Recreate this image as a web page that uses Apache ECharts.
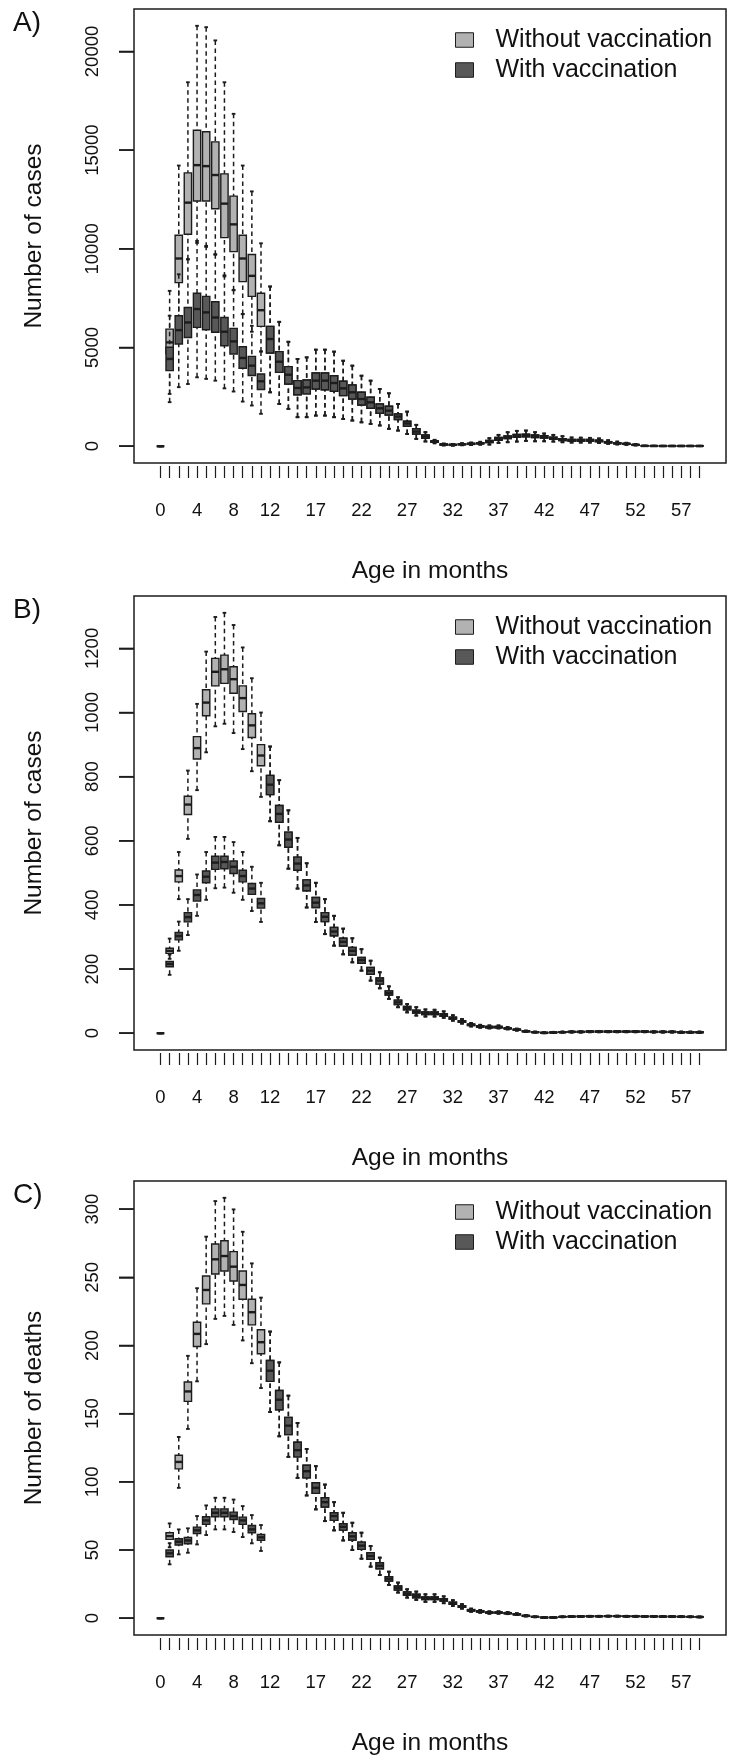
<!DOCTYPE html>
<html>
<head>
<meta charset="utf-8">
<script src="https://cdn.jsdelivr.net/npm/echarts@6/dist/echarts.min.js"></script>
<style>
html,body{margin:0;padding:0;background:#ffffff;}
#chart{width:736px;height:1762px;}
</style>
</head>
<body>
<div id="chart"></div>
<script>
// ---------- DATA (each entry: [min, q1, median, q3, max]) ----------
const ages = [0,1,2,3,4,5,6,7,8,9,10,11,12,13,14,15,16,17,18,19,20,21,22,23,24,25,26,27,28,29,
  30,31,32,33,34,35,36,37,38,39,40,41,42,43,44,45,46,47,48,49,50,51,52,53,54,55,56,57,58,59];
const xTickLabels = [0,4,8,12,17,22,27,32,37,42,47,52,57];
const yTicksA = [0,5000,10000,15000,20000];
const yTicksB = [0,200,400,600,800,1000,1200];
const yTicksC = [0,50,100,150,200,250,300];
const seriesNames = ['Without vaccination','With vaccination'];

const casesA_without = [
[0,0,0,0,0],[2650,4700,5260,5930,7870],[5600,8290,9510,10690,14220],[9470,10740,12340,13850,18440],
[10300,12420,14240,16010,21300],[10100,12420,14190,15930,21230],[9700,12030,13740,15420,20560],
[8600,10570,12290,13800,18440],[7900,9860,11240,12670,16840],[6700,8340,9510,10690,14220],
[5800,7590,8630,9710,12910],[4800,6070,6890,7750,10280],
[2730,4720,5430,6070,8090],[2140,3740,4280,4790,6300],[1890,3150,3620,4030,5290],[1470,2610,2950,3320,4420],
[1470,2650,2980,3350,4500],[1550,2900,3320,3710,4890],[1550,2860,3320,3710,4890],[1470,2780,3200,3570,4790],
[1380,2560,2930,3290,4330],[1300,2390,2730,3100,4080],[1210,2090,2390,2730,3570],[1130,1920,2220,2480,3320],
[1050,1670,1920,2140,2900],[880,1580,1800,2020,2680],[790,1350,1500,1630,2140],[620,1010,1150,1260,1750],
[370,620,740,880,1080],[240,400,490,570,710],[150,200,235,270,320],[40,60,84,110,130],
[30,50,67,85,110],[50,80,100,120,150],[60,95,117,140,180],[80,125,151,175,220],
[84,185,235,286,404],[168,303,370,438,572],[202,387,455,522,707],[235,455,522,589,775],
[269,470,539,605,791],[250,440,505,570,707],[250,410,471,530,640],[235,350,404,460,572],
[202,290,337,380,505],[185,260,303,345,438],[185,260,303,345,430],[185,260,303,345,420],
[160,230,269,300,390],[120,170,202,230,300],[90,125,151,175,230],[70,100,117,135,170],
[40,55,67,80,100],[8,12,15,18,24],[6,9,12,15,20],[5,8,10,12,16],
[5,8,10,12,16],[5,8,10,12,16],[5,8,10,12,16],[5,8,10,12,16]
];
const casesA_with = [
[0,0,0,0,0],[2230,3830,4420,5010,6610],[2990,5180,5880,6610,8710],[3150,5510,6270,7030,9470],
[3490,6020,6950,7750,10400],[3410,5900,6780,7590,10150],[3320,5770,6520,7320,9730],
[2930,5090,5800,6520,8660],[2770,4670,5310,5970,7920],[2260,3950,4470,5040,6690],
[2060,3580,4080,4550,6100],[1640,2870,3290,3660,4800],
[2730,4720,5430,6070,8090],[2140,3740,4280,4790,6300],[1890,3150,3620,4030,5290],[1470,2610,2950,3320,4420],
[1470,2650,2980,3350,4500],[1550,2900,3320,3710,4890],[1550,2860,3320,3710,4890],[1470,2780,3200,3570,4790],
[1380,2560,2930,3290,4330],[1300,2390,2730,3100,4080],[1210,2090,2390,2730,3570],[1130,1920,2220,2480,3320],
[1050,1670,1920,2140,2900],[880,1580,1800,2020,2680],[790,1350,1500,1630,2140],[620,1010,1150,1260,1750],
[370,620,740,880,1080],[240,400,490,570,710],[150,200,235,270,320],[40,60,84,110,130],
[30,50,67,85,110],[50,80,100,120,150],[60,95,117,140,180],[80,125,151,175,220],
[84,185,235,286,404],[168,303,370,438,572],[202,387,455,522,707],[235,455,522,589,775],
[269,470,539,605,791],[250,440,505,570,707],[250,410,471,530,640],[235,350,404,460,572],
[202,290,337,380,505],[185,260,303,345,438],[185,260,303,345,430],[185,260,303,345,420],
[160,230,269,300,390],[120,170,202,230,300],[90,125,151,175,230],[70,100,117,135,170],
[40,55,67,80,100],[8,12,15,18,24],[6,9,12,15,20],[5,8,10,12,16],
[5,8,10,12,16],[5,8,10,12,16],[5,8,10,12,16],[5,8,10,12,16]
];

const casesB_without = [
[0,0,0,0,0],[232,249,257,265,295],[418,472,490,509,565],[606,682,713,739,819],
[758,855,889,925,1027],[876,990,1031,1071,1190],[957,1083,1127,1169,1298],[965,1091,1135,1179,1311],
[936,1060,1104,1143,1273],[886,1003,1045,1083,1203],[817,922,960,996,1107],[737,834,866,900,1000],
[661,744,775,804,894],[586,658,684,710,789],[513,580,604,627,695],[451,508,529,549,609],
[392,444,461,478,530],[347,392,407,423,469],[309,348,363,376,418],[273,304,317,330,366],
[246,272,285,296,326],[221,244,257,267,296],[195,218,228,236,262],[164,184,195,205,226],
[140,153,164,172,190],[107,119,125,132,146],[81,89,96,103,112],[65,73,78,83,91],
[55,63,67,72,81],[52,58,62,66,74],[52,58,62,66,73],[48,53,57,61,68],
[39,44,47,50,56],[30,34,36,39,44],[21,24,26,28,32],[17,19,21,23,26],
[15,17,19,21,24],[15,17,19,21,24],[12,14,15,16,19],[8,10,11,12,14],
[4,5,6,7,8],[2,3,3,4,5],[0,1,1,2,3],[1,2,2,3,4],
[2,3,3,4,5],[2,3,4,5,6],[2,3,4,5,6],[3,4,5,6,7],
[3,4,5,6,7],[3,4,5,6,7],[3,4,5,6,7],[3,4,5,6,7],
[3,4,5,6,7],[3,4,5,6,7],[2,3,4,5,6],[2,3,4,5,6],
[2,3,4,5,6],[1,2,3,4,5],[1,2,3,4,5],[1,2,3,4,5]
];
const casesB_with = [
[0,0,0,0,0],[182,207,216,224,245],[257,291,303,314,348],[306,347,362,376,418],
[366,412,431,447,495],[416,469,488,506,565],[452,511,532,552,612],[454,513,534,552,612],
[438,498,519,537,596],[416,472,490,508,565],[381,433,451,467,519],[347,390,405,420,469],
[661,744,775,804,894],[586,658,684,710,789],[513,580,604,627,695],[451,508,529,549,609],
[392,444,461,478,530],[347,392,407,423,469],[309,348,363,376,418],[273,304,317,330,366],
[246,272,285,296,326],[221,244,257,267,296],[195,218,228,236,262],[164,184,195,205,226],
[140,153,164,172,190],[107,119,125,132,146],[81,89,96,103,112],[65,73,78,83,91],
[55,63,67,72,81],[52,58,62,66,74],[52,58,62,66,73],[48,53,57,61,68],
[39,44,47,50,56],[30,34,36,39,44],[21,24,26,28,32],[17,19,21,23,26],
[15,17,19,21,24],[15,17,19,21,24],[12,14,15,16,19],[8,10,11,12,14],
[4,5,6,7,8],[2,3,3,4,5],[0,1,1,2,3],[1,2,2,3,4],
[2,3,3,4,5],[2,3,4,5,6],[2,3,4,5,6],[3,4,5,6,7],
[3,4,5,6,7],[3,4,5,6,7],[3,4,5,6,7],[3,4,5,6,7],
[3,4,5,6,7],[3,4,5,6,7],[2,3,4,5,6],[2,3,4,5,6],
[2,3,4,5,6],[1,2,3,4,5],[1,2,3,4,5],[1,2,3,4,5]
];

const deathsC_without = [
[0,0,0,0,0],[52,57.8,60.2,62.7,69.5],[95.6,109.5,114.6,119.5,132.9],[138.8,159,166.3,173.2,192.4],
[173.7,199.3,208.5,217,242],[201,230.5,240.7,251,279.8],[219.5,252.4,263.2,274.4,305.9],[221.7,254.6,265.6,276.8,308.3],
[215.1,247.3,257.8,268.8,299.8],[203.7,233.9,244.4,254.6,283.4],[187,215.1,224.4,233.9,260.2],[168.8,193.9,202.4,211.5,235.1],
[151.2,173.7,181.5,189,210.2],[133.4,152.9,160.2,167,187.6],[118.3,134.6,141.2,147.3,163.2],[102.9,118.3,123.2,129,143.2],
[90,102.9,107.8,112.2,124.1],[79.8,91.5,95.6,99.3,111.5],[71.2,81.5,85.1,88.3,98],[64.4,71.7,74.9,77.3,85.1],
[57,64.6,67,69.3,77.3],[50,57.3,60,62.7,70],[43.6,50.5,53.2,55.8,62.7],[37.8,43.2,45.6,48,52.9],
[31.7,36.3,38.5,40.7,44.4],[24.4,27.3,29,30.5,34.1],[18.8,20.7,22.2,23.6,26.1],[15.1,16.8,18,19.3,21.2],
[13.4,15,16.3,17.5,19.5],[12,13.6,14.6,15.6,17.5],[12,13.6,14.6,15.6,17.5],[11,12.5,13.4,14.3,16],
[9,10.2,11,11.8,13.2],[7,7.9,8.5,9.1,10.3],[4.7,5.3,5.8,6.3,7],[4,4.5,4.9,5.3,6],
[3.3,3.8,4.1,4.4,5],[3.3,3.8,4.1,4.4,5],[3,3.4,3.7,4,4.5],[2.3,2.6,2.9,3.2,3.6],
[1.3,1.5,1.7,1.9,2.2],[0.7,0.9,1,1.1,1.3],[0.3,0.4,0.5,0.6,0.8],[0.3,0.4,0.5,0.6,0.8],
[0.7,0.9,1,1.1,1.3],[0.9,1.1,1.2,1.3,1.5],[1,1.2,1.3,1.4,1.6],[1.1,1.3,1.4,1.5,1.7],
[1.1,1.3,1.4,1.5,1.7],[1.2,1.4,1.5,1.6,1.8],[1.2,1.4,1.5,1.6,1.8],[1.1,1.3,1.4,1.5,1.7],
[1.1,1.3,1.4,1.5,1.7],[1,1.2,1.3,1.4,1.6],[1,1.2,1.3,1.4,1.6],[0.9,1.1,1.2,1.3,1.5],
[0.9,1.1,1.2,1.3,1.5],[0.8,1,1.1,1.2,1.4],[0.7,0.9,1,1.1,1.3],[0.6,0.8,0.9,1,1.2]
];
const deathsC_with = [
[0,0,0,0,0],[39.5,45.1,47.6,50,55],[46.8,53.7,56.1,58.3,65.1],[48,54.6,57,59.3,65.9],
[54.1,62,64.4,66.8,74.9],[61,68.8,71.7,74.4,82.7],[65.1,74.4,77.3,80.2,88.3],[65.1,74.4,77.3,80.2,88.3],
[63.2,72.4,74.9,77.8,87],[59.5,68.8,71.7,74.1,82.2],[54.9,62.7,65.1,68,75.6],[49.3,57.1,59.3,61.5,68.3],
[151.2,173.7,181.5,189,210.2],[133.4,152.9,160.2,167,187.6],[118.3,134.6,141.2,147.3,163.2],[102.9,118.3,123.2,129,143.2],
[90,102.9,107.8,112.2,124.1],[79.8,91.5,95.6,99.3,111.5],[71.2,81.5,85.1,88.3,98],[64.4,71.7,74.9,77.3,85.1],
[57,64.6,67,69.3,77.3],[50,57.3,60,62.7,70],[43.6,50.5,53.2,55.8,62.7],[37.8,43.2,45.6,48,52.9],
[31.7,36.3,38.5,40.7,44.4],[24.4,27.3,29,30.5,34.1],[18.8,20.7,22.2,23.6,26.1],[15.1,16.8,18,19.3,21.2],
[13.4,15,16.3,17.5,19.5],[12,13.6,14.6,15.6,17.5],[12,13.6,14.6,15.6,17.5],[11,12.5,13.4,14.3,16],
[9,10.2,11,11.8,13.2],[7,7.9,8.5,9.1,10.3],[4.7,5.3,5.8,6.3,7],[4,4.5,4.9,5.3,6],
[3.3,3.8,4.1,4.4,5],[3.3,3.8,4.1,4.4,5],[3,3.4,3.7,4,4.5],[2.3,2.6,2.9,3.2,3.6],
[1.3,1.5,1.7,1.9,2.2],[0.7,0.9,1,1.1,1.3],[0.3,0.4,0.5,0.6,0.8],[0.3,0.4,0.5,0.6,0.8],
[0.7,0.9,1,1.1,1.3],[0.9,1.1,1.2,1.3,1.5],[1,1.2,1.3,1.4,1.6],[1.1,1.3,1.4,1.5,1.7],
[1.1,1.3,1.4,1.5,1.7],[1.2,1.4,1.5,1.6,1.8],[1.2,1.4,1.5,1.6,1.8],[1.1,1.3,1.4,1.5,1.7],
[1.1,1.3,1.4,1.5,1.7],[1,1.2,1.3,1.4,1.6],[1,1.2,1.3,1.4,1.6],[0.9,1.1,1.2,1.3,1.5],
[0.9,1.1,1.2,1.3,1.5],[0.8,1,1.1,1.2,1.4],[0.7,0.9,1,1.1,1.3],[0.6,0.8,0.9,1,1.2]
];

// ---------- STYLE / LAYOUT ----------
const FONT = '"Liberation Sans", Arial, Helvetica, sans-serif';
const TXT = '#111111';
const STROKE = '#1c1c1c';
const FILLS = ['#b2b2b2', '#585858'];

const panels = [
  {label:'A)', top:9,    yName:'Number of cases',  yTicks:yTicksA, data:[casesA_without, casesA_with]},
  {label:'B)', top:596,  yName:'Number of cases',  yTicks:yTicksB, data:[casesB_without, casesB_with]},
  {label:'C)', top:1181, yName:'Number of deaths', yTicks:yTicksC, data:[deathsC_without, deathsC_with]}
];
const FRAME_LEFT = 134, FRAME_W = 592, FRAME_H = 454, YTICK_LEN = 15;

function makeRender(fill) {
  return function (params, api) {
    const xv = api.value(0);
    const v = [api.value(1), api.value(2), api.value(3), api.value(4), api.value(5)];
    const px = api.coord([xv, v[2]])[0];
    const y = v.map(function (d) { return api.coord([xv, d])[1]; });
    const w = api.size([1, 0])[0] * 0.8;
    const h = w / 2, cap = w / 4;
    const dashStyle = {stroke: STROKE, lineWidth: 1.5, lineDash: [4.5, 3.5], fill: null};
    const solid = {stroke: STROKE, lineWidth: 1.9, fill: null};
    return {
      type: 'group',
      children: [
        {type:'line', shape:{x1:px, y1:y[4], x2:px, y2:y[3]}, style:dashStyle},
        {type:'line', shape:{x1:px, y1:y[0], x2:px, y2:y[1]}, style:dashStyle},
        {type:'line', shape:{x1:px-cap, y1:y[4], x2:px+cap, y2:y[4]}, style:solid},
        {type:'line', shape:{x1:px-cap, y1:y[0], x2:px+cap, y2:y[0]}, style:solid},
        {type:'rect', shape:{x:px-h, y:y[3], width:w, height:y[1]-y[3]},
          style:{fill:fill, stroke:STROKE, lineWidth:1.4}},
        {type:'line', shape:{x1:px-h, y1:y[2], x2:px+h, y2:y[2]},
          style:{stroke:STROKE, lineWidth:2.4, fill:null}}
      ]
    };
  };
}

// y-axis tick marks drawn outward from the left edge of the plot frame
function renderYTick(params, api) {
  const y = api.coord([0, api.value(0)])[1];
  const x0 = params.coordSys.x;
  return {type: 'line', shape: {x1: x0 - YTICK_LEN, y1: y, x2: x0, y2: y},
    style: {stroke: STROKE, lineWidth: 1.5, fill: null}};
}

const option = {
  animation: false,
  backgroundColor: '#ffffff',
  textStyle: {fontFamily: FONT, color: TXT},
  grid: [], xAxis: [], yAxis: [], series: [], legend: [], graphic: []
};

panels.forEach(function (p, k) {
  let M = 0;
  p.data.forEach(function (arr) { arr.forEach(function (b) { M = Math.max(M, b[4]); }); });
  option.grid.push({left: FRAME_LEFT, top: p.top, width: FRAME_W, height: FRAME_H,
    show: true, borderColor: STROKE, borderWidth: 1.5, backgroundColor: 'transparent'});
  option.xAxis.push({
    type: 'value', gridIndex: k, min: -2.9, max: 61.9, offset: 3,
    axisLine: {show: false, onZero: false},
    axisTick: {show: true, inside: false, length: 12, customValues: ages, lineStyle: {color: STROKE, width: 1.2}},
    axisLabel: {show: true, customValues: xTickLabels, margin: 34, fontSize: 18.5, lineHeight: 22,
      color: TXT, fontFamily: FONT, formatter: function (val) { return String(val); }},
    splitLine: {show: false},
    name: 'Age in months', nameLocation: 'middle', nameGap: 91,
    nameTextStyle: {fontSize: 24.5, lineHeight: 28, color: TXT, fontFamily: FONT}
  });
  option.yAxis.push({
    type: 'value', gridIndex: k, position: 'left', min: -0.04 * M, max: 1.04 * M,
    axisLine: {show: false, onZero: false},
    axisTick: {show: true, inside: false, length: YTICK_LEN, customValues: p.yTicks, lineStyle: {color: STROKE, width: 1.5}},
    axisLabel: {show: true, customValues: p.yTicks, rotate: 90, margin: 30, fontSize: 18.5, lineHeight: 22,
      color: TXT, fontFamily: FONT, formatter: function (val) { return String(val); }},
    splitLine: {show: false},
    name: p.yName, nameLocation: 'middle', nameGap: 86,
    nameTextStyle: {fontSize: 24.5, lineHeight: 28, color: TXT, fontFamily: FONT}
  });
  p.data.forEach(function (arr, s) {
    option.series.push({
      type: 'custom', name: seriesNames[s], xAxisIndex: k, yAxisIndex: k,
      itemStyle: {color: FILLS[s]},
      encode: {x: 0, y: [1, 2, 3, 4, 5]},
      renderItem: makeRender(FILLS[s]),
      data: ages.map(function (a, i) { return [a].concat(arr[i]); }),
      z: 2 + s
    });
  });
  option.series.push({
    type: 'custom', name: 'y-ticks-' + k, xAxisIndex: k, yAxisIndex: k, silent: true, clip: false,
    encode: {y: 0},
    renderItem: renderYTick,
    data: p.yTicks.map(function (t) { return [t]; }),
    z: 5
  });
  option.legend.push({
    orient: 'vertical', left: 455, top: p.top + 16, itemGap: 0, padding: 0,
    itemWidth: 18, itemHeight: 14.5, icon: 'rect', selectedMode: false,
    textStyle: {fontSize: 25, lineHeight: 30, color: TXT, fontFamily: FONT, padding: [0, 0, 0, 17]},
    data: seriesNames.map(function (n, s) {
      return {name: n, itemStyle: {color: FILLS[s], borderColor: STROKE, borderWidth: 1}};
    })
  });
  option.graphic.push({
    type: 'text', left: 13, top: p.top,
    style: {text: p.label, font: '28px ' + FONT, fill: TXT}
  });
});

const chart = echarts.init(document.getElementById('chart'), null, {renderer: 'canvas'});
chart.setOption(option);
</script>
</body>
</html>
